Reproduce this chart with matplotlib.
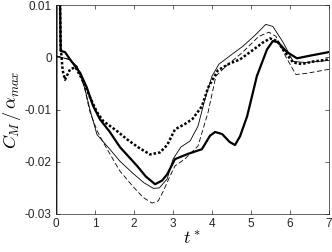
import matplotlib
matplotlib.use("Agg")
import matplotlib.pyplot as plt

# Curvas (t*, C_M/alpha_max)
t_grueso = [0, 0.02, 0.12, 0.23, 0.36, 0.49, 0.62, 0.79, 0.95, 1.13, 1.38, 1.64,
            2.08, 2.3, 2.54, 2.72, 2.85, 3.05, 3.38, 3.74, 3.95, 4.08, 4.26, 4.45,
            4.59, 4.72, 4.9, 5.05, 5.15, 5.41, 5.56, 5.69, 5.92, 6.18, 6.44, 7.0]
cm_grueso = [-0.06, 0.06, 0.0012, 0.001, -0.0004, -0.0017, -0.0030, -0.0058,
             -0.0093, -0.0119, -0.0143, -0.0172, -0.0208, -0.0228, -0.0243,
             -0.0236, -0.0224, -0.0195, -0.0185, -0.0176, -0.0150, -0.0143,
             -0.0147, -0.0162, -0.0168, -0.0151, -0.0113, -0.0067, -0.0036,
             0.0015, 0.0031, 0.0029, 0.001, -0.0002, 0.0002, 0.001]

t_fino = [0.03, 0.33, 0.54, 0.74, 0.87, 1.05, 1.38, 1.64, 1.97, 2.25, 2.5, 2.65,
          2.85, 3.0, 3.2, 3.44, 3.64, 3.82, 4.0, 4.18, 4.5, 4.79, 5.1, 5.38,
          5.56, 5.82, 6.08, 6.41, 7.0]
cm_fino = [0.0002, -0.0004, -0.0017, -0.0060, -0.0100, -0.0148, -0.0176,
           -0.0199, -0.0222, -0.0240, -0.0251, -0.0250, -0.0233, -0.0195,
           -0.0172, -0.0160, -0.0132, -0.0080, -0.0036, -0.0013, 0.0005,
           0.0021, 0.0042, 0.0063, 0.0059, 0.0029, -0.0008, -0.0010, -0.0006]

t_punteado = [0.04, 0.12, 0.17, 0.23, 0.36, 0.5, 0.67, 0.87, 1.05, 1.21, 1.56,
              1.82, 2.1, 2.41, 2.67, 2.85, 3.05, 3.3, 3.5, 3.74, 3.9, 4.15, 4.45,
              4.72, 5.05, 5.3, 5.49, 5.67, 5.87, 6.08, 6.3, 6.6, 7.0]
cm_punteado = [0.04, 0.002, -0.0025, -0.0043, -0.0023, -0.0019, -0.0042,
               -0.0076, -0.0105, -0.0122, -0.0141, -0.0157, -0.0172, -0.0186,
               -0.0182, -0.0168, -0.0138, -0.0128, -0.0118, -0.0094, -0.0058,
               -0.0025, -0.0012, -0.0004, 0.0014, 0.0028, 0.0036, 0.0031,
               0.001, -0.0010, -0.0013, -0.0008, -0.0004]

t_discontinuo = [0.03, 0.33, 0.54, 0.72, 0.87, 1.05, 1.21, 1.64, 1.97, 2.23, 2.46,
                 2.62, 2.74, 2.92, 3.05, 3.3, 3.64, 3.9, 4.1, 4.36, 4.79, 5.2,
                 5.46, 5.64, 5.9, 6.15, 6.4, 7.0]
cm_discontinuo = [0.0002, -0.0004, -0.0018, -0.0055, -0.0105, -0.0140, -0.0163,
                  -0.0218, -0.0247, -0.0268, -0.0279, -0.0275, -0.0258, -0.0228,
                  -0.0208, -0.0195, -0.0170, -0.0105, -0.0036, -0.0017, 0.0010,
                  0.0040, 0.0048, 0.0040, 0.0000, -0.0033, -0.0031, -0.0023]

x_ticks = [0, 1, 2, 3, 4, 5, 6, 7]
y_ticks = [-0.03, -0.02, -0.01, 0, 0.01]
y_etiquetas = ["-0.03", "-0.02", "-0.01", "0", "0.01"]

plt.rcParams["font.family"] = ["Liberation Sans", "DejaVu Sans"]
plt.rcParams["mathtext.fontset"] = "cm"

fig = plt.figure(figsize=(3.32, 2.52), dpi=100)
ax = fig.add_axes([0.1687, 0.1508, 0.8223, 0.8292])

ax.plot(t_fino, cm_fino, color="black", lw=0.6)
ax.plot(t_discontinuo, cm_discontinuo, color="black", lw=0.6, dashes=(6, 3))
ax.plot(t_punteado, cm_punteado, color="black", lw=1.8, linestyle=(0, (1, 0.8)))
ax.plot(t_grueso, cm_grueso, color="black", lw=1.6)

ax.set_xlim(0, 7)
ax.set_ylim(-0.03, 0.01)
ax.set_xticks(x_ticks)
ax.set_xticklabels([str(v) for v in x_ticks])
ax.set_yticks(y_ticks)
ax.set_yticklabels(y_etiquetas)
ax.tick_params(direction="in", length=3, width=0.5, labelsize=8.5,
               top=True, right=True, colors="#262626", pad=3)
for s in ax.spines.values():
    s.set_linewidth(0.5)
    s.set_color("#262626")

ax.set_xlabel("$t^*$", fontsize=13, labelpad=1)
ax.set_ylabel(r"$C_M\,/\,\alpha_{max}$", fontsize=13, labelpad=1)

fig.savefig("out.png", dpi=100)
